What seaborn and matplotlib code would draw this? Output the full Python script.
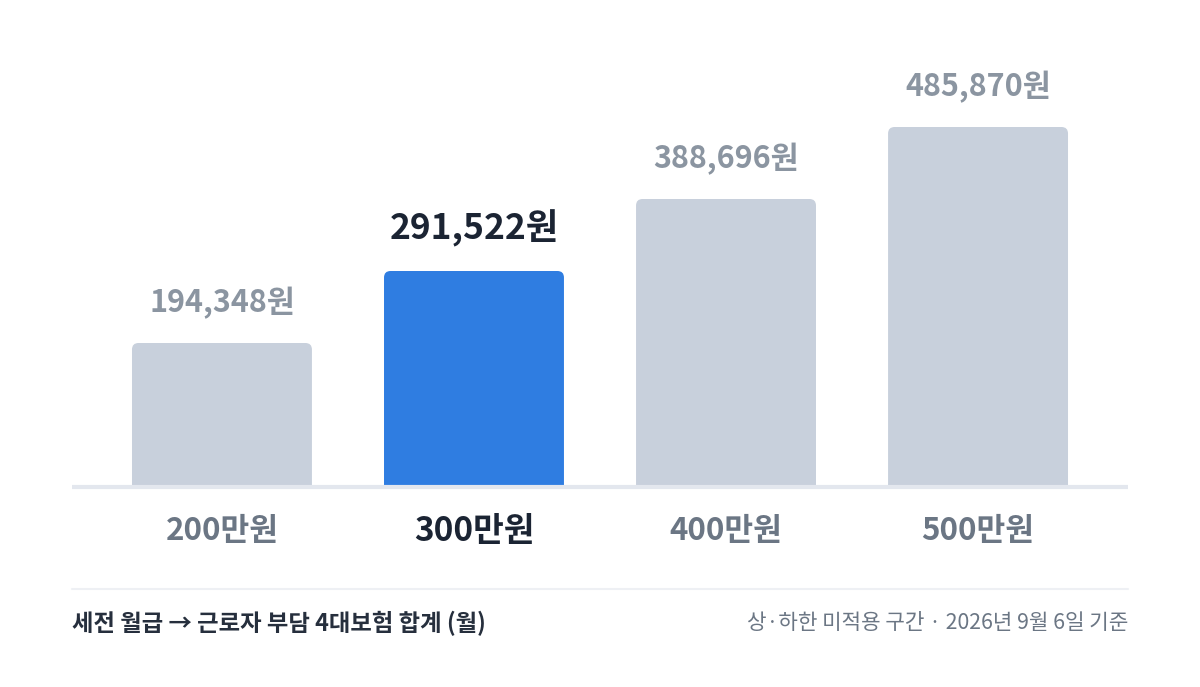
import matplotlib
matplotlib.use("Agg")
import matplotlib.pyplot as plt
import seaborn as sns
import pandas as pd
from matplotlib.patches import FancyBboxPatch

categories = ["200만원", "300만원", "400만원", "500만원"]
values = [194348, 291522, 388696, 485870]
value_labels = ["194,348원", "291,522원", "388,696원", "485,870원"]
highlight = "300만원"
title_left = "세전 월급 → 근로자 부담 4대보험 합계 (월)"
note_right = "상·하한 미적용 구간 · 2026년 9월 6일 기준"

sns.set_theme(style="white")
plt.rcParams["font.family"] = ["Noto Sans CJK KR", "DejaVu Sans"]

GRAY_BAR = "#c8d0dc"
BLUE = "#2f7de1"
GRAY_TXT = "#8b95a1"
TICK_TXT = "#6b7684"
DARK = "#1b2433"

df = pd.DataFrame({"cat": categories, "val": values})
palette = {c: (BLUE if c == highlight else GRAY_BAR) for c in categories}

fig = plt.figure(figsize=(12, 6.87), dpi=100)
ax = fig.add_axes([0.06, 1 - 487 / 687, 0.88, (487 - 40) / 687])
sns.barplot(data=df, x="cat", y="val", hue="cat", palette=palette,
            width=0.714, legend=False, ax=ax, saturation=1)

ymax = 485870 / 360 * 447
ax.set_xlim(-0.595, 3.595)
ax.set_ylim(0, ymax)

# rounded top corners
xpx = 1056 / 4.19
ypx = 447 / ymax
aspect = xpx / ypx
patches = list(ax.patches)
for p in patches:
    x0, w, h = p.get_x(), p.get_width(), p.get_height()
    fc = p.get_facecolor()
    p.remove()
    fb = FancyBboxPatch((x0, -ymax * 0.05), w, h + ymax * 0.05,
                        boxstyle="round,pad=0,rounding_size=0.026",
                        mutation_aspect=aspect, facecolor=fc, edgecolor="none",
                        zorder=2)
    ax.add_patch(fb)

for i, (c, v, lab) in enumerate(zip(categories, values, value_labels)):
    if c == highlight:
        ax.text(i, v + 43 / ypx, lab, ha="center", va="center", fontsize=25.5,
                fontweight="bold", color=DARK)
    else:
        ax.text(i, v + 40 / ypx, lab, ha="center", va="center", fontsize=22,
                fontweight="semibold", color=GRAY_TXT)

sns.despine(ax=ax, left=True, bottom=True, top=True, right=True)
ax.set_yticks([])
ax.set_xlabel("")
ax.set_ylabel("")
ax.axhline(0, color="#e3e7ee", lw=3, zorder=3, clip_on=False,
           solid_capstyle="butt")
ax.tick_params(axis="x", length=0, pad=20)
ax.set_xticks(range(len(categories)))
ax.set_xticklabels(categories)
for t in ax.get_xticklabels():
    if t.get_text() == highlight:
        t.set_color(DARK)
        t.set_fontweight("bold")
        t.set_fontsize(24)
    else:
        t.set_color(TICK_TXT)
        t.set_fontweight("semibold")
        t.set_fontsize(22.5)

fig.add_artist(plt.Line2D([72 / 1200, 1128 / 1200], [1 - 589 / 687] * 2,
                          color="#eef0f4", lw=1.5))
fig.text(72 / 1200, 1 - 623 / 687, title_left, ha="left", va="center",
         fontsize=16.8, fontweight="bold", color="#262f3d")
fig.text(1128 / 1200, 1 - 623 / 687, note_right, ha="right", va="center",
         fontsize=15.3, color="#6b7684")

fig.savefig("out.png", dpi=100, facecolor="white")
